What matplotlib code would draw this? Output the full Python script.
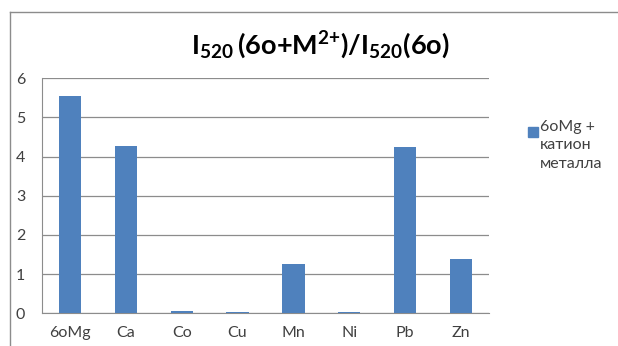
import matplotlib
matplotlib.use("Agg")
import matplotlib.pyplot as plt
from matplotlib.lines import Line2D

categories = ["6oMg", "Ca", "Co", "Cu", "Mn", "Ni", "Pb", "Zn"]
values = [5.55, 4.27, 0.07, 0.03, 1.25, 0.03, 4.24, 1.39]
series_name = "6oMg +\nкатион\nметалла"

plt.rcParams['font.family'] = ['Lato', 'DejaVu Sans']

W, H = 618, 346
fig = plt.figure(figsize=(W / 100, H / 100), dpi=100)
# plot area in pixels: x 42..489, y 78..313
ax = fig.add_axes([42 / W, 1 - 313.3 / H, 447 / W, 235 / H])

bar_color = '#4F81BD'
ax.bar(range(len(categories)), values, width=0.4, color=bar_color, zorder=3)

ax.set_xlim(-0.5, len(categories) - 0.5)
ax.set_ylim(0, 6)
ax.set_yticks(range(7))
ax.set_xticks(range(len(categories)))
ax.set_xticklabels(categories)
ax.tick_params(axis='both', length=0, labelsize=11.5, colors='#404040')
ax.tick_params(axis='x', pad=9)
ax.tick_params(axis='y', pad=12)
ax.grid(axis='y', color='#8c8c8c', linewidth=0.9, zorder=0)
for s in ['top', 'right']:
    ax.spines[s].set_visible(False)
ax.spines['left'].set_color('#8c8c8c')
ax.spines['bottom'].set_color('#8c8c8c')

fig.text(320 / W, 1 - 45 / H,
         r"$\mathregular{I_{520}\,(6o{+}M^{2{+}})/I_{520}(6o)}$",
         ha='center', va='center', fontsize=19.5, fontweight='bold', color='black')

# legend
fig.patches.append(plt.Rectangle((528 / W, 1 - 137 / H), 10 / W, 10 / H,
                                 transform=fig.transFigure, color=bar_color))
fig.text(540 / W, 1 - 120 / H, series_name, ha='left', va='top',
         fontsize=11.5, color='#404040', linespacing=1.4)

# chart border
fig.lines.append(Line2D([10 / W, 1], [1 - 12 / H, 1 - 12 / H],
                        transform=fig.transFigure, color='#8c8c8c', lw=1))
fig.lines.append(Line2D([10 / W, 10 / W], [0, 1 - 12 / H],
                        transform=fig.transFigure, color='#8c8c8c', lw=1))

fig.savefig("out.png", dpi=100)
